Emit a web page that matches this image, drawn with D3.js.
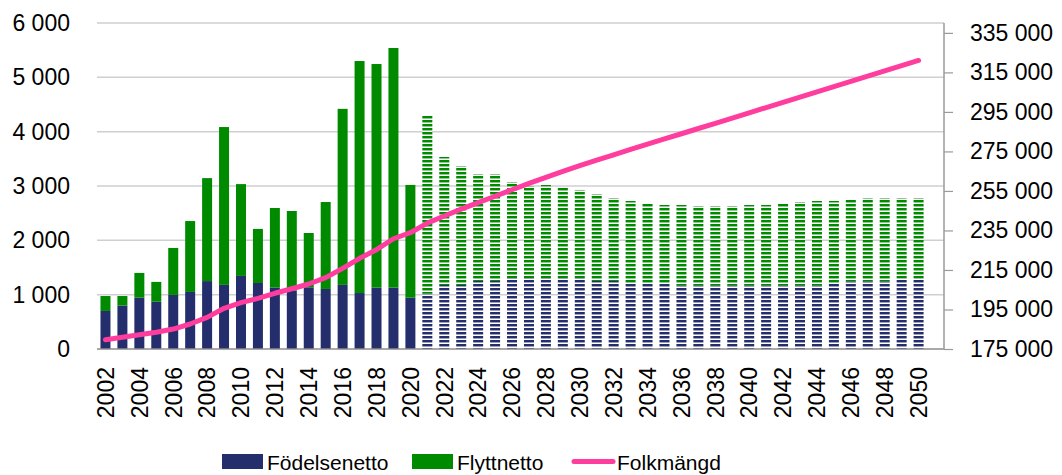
<!DOCTYPE html>
<html><head><meta charset="utf-8">
<script src="https://cdn.jsdelivr.net/npm/d3@7"></script>
<style>
body{margin:0;background:#fff}
svg{display:block}
text{font-family:"Liberation Sans",Arial,sans-serif;fill:#000}
</style>
</head><body><svg id="c" width="1062" height="475"></svg>
<script>
// ---------- DATA ----------
const years = [2002,2003,2004,2005,2006,2007,2008,2009,2010,2011,2012,2013,2014,2015,2016,2017,2018,2019,2020,
  2021,2022,2023,2024,2025,2026,2027,2028,2029,2030,2031,2032,2033,2034,2035,2036,2037,2038,2039,2040,
  2041,2042,2043,2044,2045,2046,2047,2048,2049,2050];
const lastActualYear = 2020;
const fodelsenetto = [700,800,945,870,995,1050,1250,1180,1345,1215,1130,1075,1135,1105,1180,1030,1130,1130,945,
  1020,1178,1178,1252,1252,1307,1307,1307,1307,1307,1252,1252,1196,1196,1196,1172,1172,1172,1172,1172,
  1172,1172,1172,1172,1209,1246,1246,1246,1301,1301];
const flyttnetto = [275,175,455,365,865,1305,1895,2905,1690,995,1465,1465,1000,1600,3240,4270,4115,4410,2075,
  3287,2356,2190,1969,1969,1767,1693,1711,1675,1620,1601,1527,1528,1485,1454,1478,1460,1460,1460,1478,
  1478,1509,1533,1552,1515,1509,1533,1533,1478,1478];
const folkmangd = [179700,180900,182200,183450,185100,187650,191000,195600,198450,200650,203200,205500,207900,211100,215800,220900,225250,230800,233850,
  238700,242300,245800,249100,252300,255600,258800,261900,264900,267800,270600,273300,276000,278700,281300,283950,286600,289250,291900,294550,
  297200,299850,302500,305150,307800,310450,313100,315750,318400,321050];
const leftTicks = [0,1000,2000,3000,4000,5000,6000];
const rightTicks = [175000,195000,215000,235000,255000,275000,295000,315000,335000];
const seriesNames = ["Födelsenetto","Flyttnetto","Folkmängd"];
const colors = {fod:"#252e6c", flytt:"#008a00", folk:"#ff3d9e"};

// ---------- CHART ----------
const svg = d3.select("#c");
const M = {left:97, right:944, top:23, bottom:349};
const fmt = d3.formatLocale({decimal:",",thousands:" ",grouping:[3],currency:["","kr"]}).format(",d");

const x = d3.scaleBand()
  .domain(years.map(String).concat(["_pad"]))
  .range([M.left, M.right]).paddingInner(0.41).paddingOuter(0.205);
const bw = x.bandwidth();
const yL = d3.scaleLinear().domain([0,6000]).range([M.bottom, M.top]);
const yR = d3.scaleLinear().domain([175000,340000]).range([M.bottom, M.top]);

const defs = svg.append("defs");
function makePattern(id, color){
  const p = defs.append("pattern").attr("id",id).attr("patternUnits","userSpaceOnUse")
    .attr("width",4).attr("height",4);
  p.append("rect").attr("width",4).attr("height",4).attr("fill","#fff");
  p.append("rect").attr("width",4).attr("height",2).attr("fill",color);
  p.append("rect").attr("y",2).attr("width",4).attr("height",1).attr("fill",color).attr("opacity",0.45);
}
makePattern("pf", colors.fod);
makePattern("pg", colors.flytt);

// gridlines
svg.append("g").selectAll("line").data(leftTicks.filter(d=>d>0)).join("line")
  .attr("x1",M.left).attr("x2",M.right)
  .attr("y1",d=>yL(d)).attr("y2",d=>yL(d))
  .attr("stroke","#cfcfcf").attr("stroke-width",1.5);

// left axis labels
const gL = svg.append("g").attr("transform",`translate(${M.left},0)`)
  .call(d3.axisLeft(yL).tickValues(leftTicks).tickSize(0).tickPadding(27).tickFormat(fmt));
gL.select(".domain").remove();
gL.selectAll("text").attr("font-size",23).attr("font-family","Liberation Sans, Arial, sans-serif");

// bars
const rows = years.map((yr,i)=>({yr, fod:fodelsenetto[i], flytt:flyttnetto[i], fc: yr>lastActualYear}));
const bars = svg.append("g");
bars.selectAll("rect.f").data(rows).join("rect").attr("class","f")
  .attr("x",d=>x(String(d.yr))).attr("width",bw)
  .attr("y",d=>yL(d.fod)).attr("height",d=>yL(0)-yL(d.fod))
  .attr("fill",d=>d.fc?"url(#pf)":colors.fod);
bars.selectAll("rect.g").data(rows).join("rect").attr("class","g")
  .attr("x",d=>x(String(d.yr))).attr("width",bw)
  .attr("y",d=>yL(d.fod+d.flytt)).attr("height",d=>yL(d.fod)-yL(d.fod+d.flytt))
  .attr("fill",d=>d.fc?"url(#pg)":colors.flytt);

// bottom axis
const gB = svg.append("g").attr("transform",`translate(0,${M.bottom})`)
  .call(d3.axisBottom(x).tickValues(years.filter(y=>y%2===0).map(String)).tickSize(0).tickPadding(0));
gB.select(".domain").attr("stroke","#8c8c8c").attr("stroke-width",1.5)
  .attr("d",`M${M.left},0H${M.right}`);
gB.selectAll("text").attr("font-size",23).attr("font-family","Liberation Sans, Arial, sans-serif")
  .attr("text-anchor","end").attr("transform","rotate(-90)")
  .attr("x",-18).attr("y",0).attr("dy","0.36em");

// right axis
const gR = svg.append("g").attr("transform",`translate(${M.right},0)`)
  .call(d3.axisRight(yR).tickValues(rightTicks).tickSize(9).tickPadding(17).tickFormat(fmt));
gR.select(".domain").attr("stroke","#9a9a9a").attr("stroke-width",1.5)
  .attr("d",`M0,${M.top}V${M.bottom}`);
gR.selectAll(".tick line").attr("stroke","#9a9a9a").attr("stroke-width",1.2);
gR.selectAll("text").attr("font-size",23).attr("font-family","Liberation Sans, Arial, sans-serif");

// line
const line = d3.line().x((d,i)=>x(String(years[i]))+bw/2).y(d=>yR(d));
svg.append("path").datum(folkmangd).attr("d",line).attr("fill","none")
  .attr("stroke",colors.folk).attr("stroke-width",5)
  .attr("stroke-linecap","round").attr("stroke-linejoin","round");

// legend
const lg = svg.append("g");
const lgX = [222,412,572];
lg.append("rect").attr("x",lgX[0]).attr("y",454).attr("width",41).attr("height",15).attr("fill",colors.fod);
lg.append("rect").attr("x",lgX[1]).attr("y",454).attr("width",41).attr("height",15).attr("fill",colors.flytt);
lg.append("line").attr("x1",lgX[2]+2).attr("x2",lgX[2]+41).attr("y1",461.5).attr("y2",461.5)
  .attr("stroke",colors.folk).attr("stroke-width",5).attr("stroke-linecap","round");
lg.selectAll("text").data(seriesNames).join("text")
  .attr("x",(d,i)=>lgX[i]+45).attr("y",469.5)
  .attr("font-size",21).text(d=>d);
</script>
</body></html>
